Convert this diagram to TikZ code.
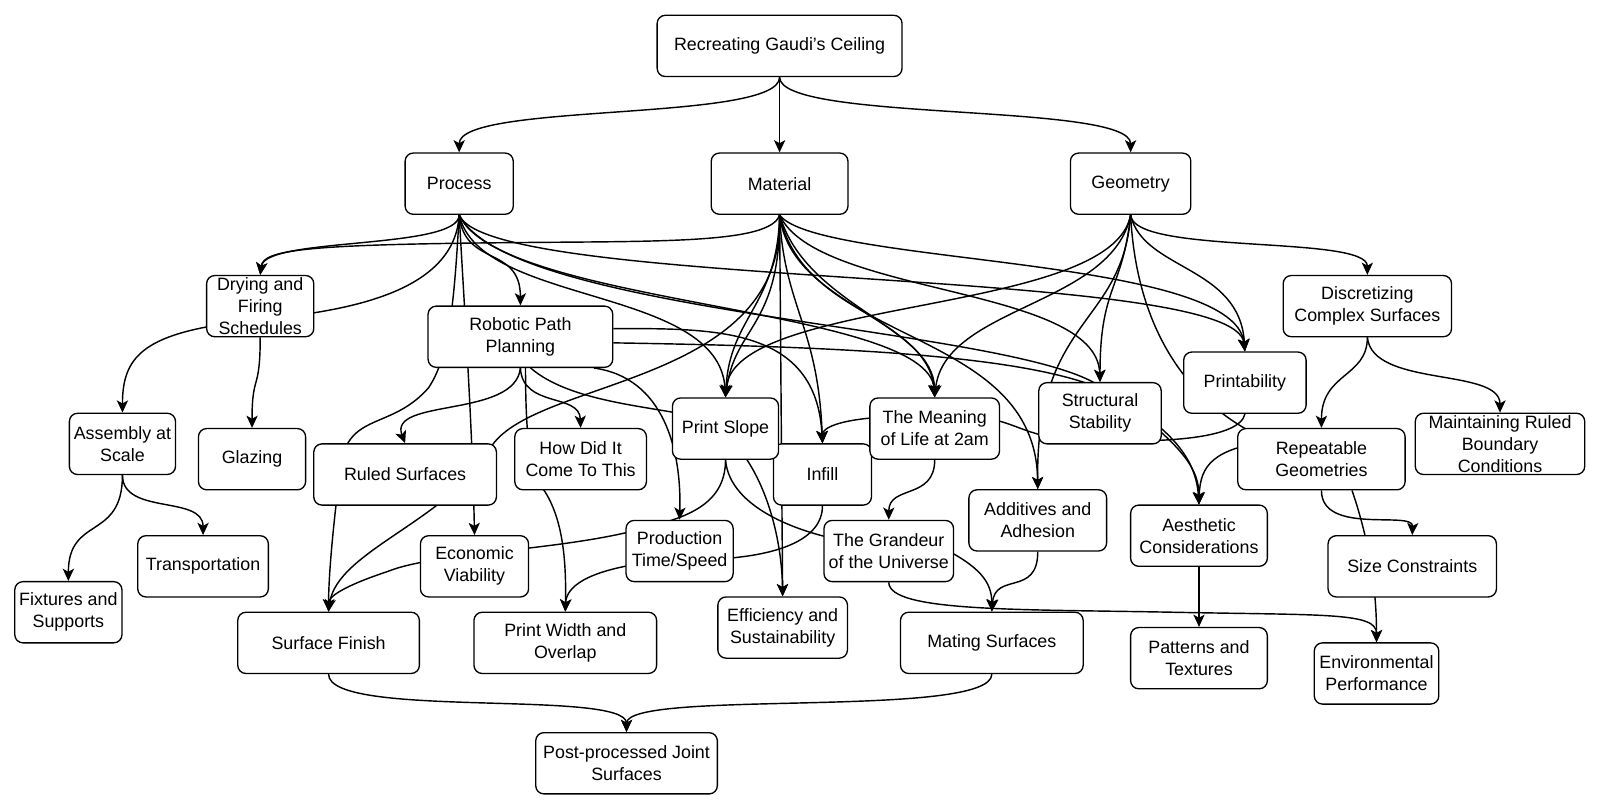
\documentclass[tikz,border=0pt]{standalone}
\usepackage{fontspec}
\setmainfont{Liberation Sans}
\usetikzlibrary{arrows.meta}
\pgfdeclarelayer{background}
\pgfsetlayers{background,main}
\begin{document}
\begin{tikzpicture}[x=1pt,y=-1pt,
  box/.style={draw, rounded corners=8pt, fill=white, line width=1.3pt, align=center, inner sep=0pt, minimum height=60pt, font=\fontsize{17.5}{21.5}\selectfont},
  conn/.style={draw, line width=1.4pt},
  arr/.style={conn, -{Stealth[length=12pt,width=11pt,inset=3pt]}}]
\path[use as bounding box] (0,0) rectangle (1568,795);

\node[box, minimum width=240pt] (root) at (764,45) {Recreating Gaudi's Ceiling};
\node[box, minimum width=106pt] (proc) at (450,180) {Process};
\node[box, minimum width=134pt] (mat) at (764,180) {Material};
\node[box, minimum width=118pt] (geo) at (1108,180) {Geometry};
\node[box, minimum width=105pt] (dry) at (255,300) {Drying and\\Firing\\Schedules};
\node[box, minimum width=181pt] (rpp) at (510,330) {Robotic Path\\Planning};
\node[box, minimum width=165pt] (disc) at (1340,300) {Discretizing\\Complex Surfaces};
\node[box, minimum width=120pt] (printab) at (1220,375) {Printability};
\node[box, minimum width=120pt] (struct) at (1078,405) {Structural\\Stability};
\node[box, minimum width=164pt] (repeat) at (1295,450) {Repeatable\\Geometries};
\node[box, minimum width=166pt] (maint) at (1470,435) {Maintaining Ruled\\Boundary\\Conditions};
\node[box, minimum width=96pt] (infill) at (806,465) {Infill};
\node[box, minimum width=104pt] (slope) at (711,420) {Print Slope};
\node[box, minimum width=127pt] (meaning) at (916,420) {The Meaning\\of Life at 2am};
\node[box, minimum width=129pt] (howdid) at (569,450) {How Did It\\Come To This};
\node[box, minimum width=179pt] (ruled) at (397,465) {Ruled Surfaces};
\node[box, minimum width=105pt] (glazing) at (247,450) {Glazing};
\node[box, minimum width=104pt] (assembly) at (120,435) {Assembly at\\Scale};
\node[box, minimum width=135pt] (additives) at (1017,510) {Additives and\\Adhesion};
\node[box, minimum width=134pt] (aesthetic) at (1175,525) {Aesthetic\\Considerations};
\node[box, minimum width=105pt] (prodtime) at (666,540) {Production\\Time/Speed};
\node[box, minimum width=127pt] (grandeur) at (871,540) {The Grandeur\\of the Universe};
\node[box, minimum width=106pt] (econ) at (465,555) {Economic\\Viability};
\node[box, minimum width=128pt] (transp) at (199,555) {Transportation};
\node[box, minimum width=165pt] (size) at (1384,555) {Size Constraints};
\node[box, minimum width=105pt] (fixtures) at (67,600) {Fixtures and\\Supports};
\node[box, minimum width=178pt] (surf) at (322,630) {Surface Finish};
\node[box, minimum width=179pt] (printw) at (554,630) {Print Width and\\Overlap};
\node[box, minimum width=127pt] (effic) at (767,615) {Efficiency and\\Sustainability};
\node[box, minimum width=179pt] (mating) at (972,630) {Mating Surfaces};
\node[box, minimum width=134pt] (patterns) at (1175,645) {Patterns and\\Textures};
\node[box, minimum width=122pt] (envperf) at (1349,660) {Environmental\\Performance};
\node[box, minimum width=178pt] (post) at (614,748) {Post-processed Joint\\Surfaces};

\begin{pgfonlayer}{background}
\fill[white] (0,0) rectangle (1568,795);
% root
\draw[arr] (root.south) .. controls (764,120) and (450,100) .. (proc.north);
\draw[arr] (root.south) -- (mat.north);
\draw[arr] (root.south) .. controls (764,120) and (1108,100) .. (geo.north);
% process
\draw[arr] (proc.south) .. controls (450,245) and (260,232) .. (dry.north);
\draw[arr] (proc.south) .. controls (445,300) and (300,308) .. (230,316) .. controls (140,328) and (120,350) .. (assembly.north);
\draw[arr] (dry.south) .. controls (255,385) and (247,365) .. (glazing.north);
\draw[arr] (proc.south) .. controls (455,262) and (510,240) .. (rpp.north);
\draw[arr] (proc.south) .. controls (445,300) and (440,350) .. (420,380) .. controls (385,420) and (345,405) .. (335,450) .. controls (328,500) and (322,560) .. (surf.north);
\draw[arr] (proc.south) .. controls (455,300) and (463,420) .. (econ.north);
\draw[arr] (proc.south) .. controls (470,300) and (705,280) .. (slope.north);
\draw[arr] (proc.south) .. controls (480,285) and (1210,260) .. (printab.north);
\draw[arr] (proc.south) .. controls (490,300) and (910,300) .. (meaning.north);
\draw[arr] (proc.south) .. controls (500,310) and (1000,320) .. (1080,380) .. controls (1150,420) and (1172,450) .. (aesthetic.north);
% robotic path planning
\draw[arr] (rpp.south) .. controls (512,400) and (568,385) .. (howdid.north);
\draw[arr] (rpp.south) .. controls (505,410) and (380,390) .. (ruled.north);
\draw[arr] ([xshift=5pt]rpp.south) .. controls (515,430) and (520,465) .. (530,476) .. controls (552,505) and (555,550) .. (printw.north);
\draw[arr] ([xshift=72pt]rpp.south) .. controls (650,370) and (668,440) .. (prodtime.north);
\draw[arr] ([xshift=10pt]rpp.south) .. controls (560,395) and (640,398) .. (690,410) .. controls (745,440) and (766,520) .. (effic.north);
\draw[arr] ([yshift=8pt]rpp.east) .. controls (700,322) and (800,320) .. (infill.north);
\draw[arr] ([yshift=-6pt]rpp.east) .. controls (850,340) and (1060,350) .. (1110,400) .. controls (1160,440) and (1175,460) .. (aesthetic.north);
% material
\draw[arr] (mat.south) .. controls (755,240) and (640,236) .. (480,238) .. controls (300,240) and (258,245) .. (dry.north);
\draw[arr] (mat.south) .. controls (762,300) and (715,310) .. (slope.north);
\draw[arr] (mat.south) .. controls (765,320) and (720,320) .. (slope.north);
\draw[arr] (mat.south) -- (effic.north);
\draw[arr] (mat.south) .. controls (768,300) and (802,320) .. (infill.north);
\draw[arr] (mat.south) .. controls (775,300) and (910,310) .. (meaning.north);
\draw[arr] (mat.south) .. controls (790,300) and (915,320) .. (meaning.north);
\draw[arr] (mat.south) .. controls (800,290) and (1075,280) .. (struct.north);
\draw[arr] (mat.south) .. controls (790,340) and (1015,320) .. (additives.north);
\draw[arr] (mat.south) .. controls (800,260) and (1210,250) .. (printab.north);
\draw[arr] (mat.south) .. controls (770,380) and (520,370) .. (480,440) .. controls (440,510) and (330,540) .. (surf.north);
% geometry
\draw[arr] (geo.south) .. controls (1110,250) and (1340,230) .. (disc.north);
\draw[arr] (geo.south) .. controls (1120,265) and (1215,260) .. (printab.north);
\draw[arr] (geo.south) .. controls (1100,285) and (1078,280) .. (struct.north);
\draw[arr] (geo.south) .. controls (1100,320) and (1015,310) .. (additives.north);
\draw[arr] (geo.south) .. controls (1090,310) and (718,290) .. (slope.north);
\draw[arr] (geo.south) .. controls (1090,300) and (925,300) .. (meaning.north);
\draw[arr] (geo.south) .. controls (1115,350) and (1190,410) .. (1245,432) .. controls (1190,440) and (1176,455) .. (aesthetic.north);
% printability
\draw[arr] (printab.south) .. controls (1215,430) and (1140,436) .. (1040,430) .. controls (1000,425) and (990,410) .. (950,408) -- (880,408) .. controls (820,410) and (806,420) .. (infill.north);
% discretizing
\draw[arr] (disc.south) .. controls (1340,370) and (1295,365) .. (repeat.north);
\draw[arr] (disc.south) .. controls (1345,380) and (1470,360) .. (maint.north);
% repeatable
\draw[arr] (repeat.south) .. controls (1295,525) and (1385,500) .. (size.north);
\draw[arr] ([xshift=30pt]repeat.south) .. controls (1335,510) and (1349,560) .. (envperf.north);
% grandeur
\draw[arr] (grandeur.south) .. controls (871,600) and (1000,597) .. (1150,600) .. controls (1300,603) and (1349,600) .. (envperf.north);
% aesthetic
\draw[arr] (aesthetic.south) -- (patterns.north);
% print slope
\draw[arr] (slope.south) .. controls (711,490) and (680,505) .. (640,515) .. controls (560,540) and (430,540) .. (380,560) .. controls (335,575) and (322,585) .. (surf.north);
\draw[arr] (slope.south) .. controls (715,500) and (790,525) .. (840,532) -- (920,535) .. controls (960,555) and (972,570) .. (mating.north);
% infill
\draw[arr] (infill.south) .. controls (806,530) and (760,545) .. (700,548) -- (630,552) .. controls (575,560) and (555,575) .. (printw.north);
% meaning
\draw[arr] (meaning.south) .. controls (916,490) and (871,475) .. (grandeur.north);
% additives
\draw[arr] (additives.south) .. controls (1017,585) and (975,560) .. (mating.north);
% post
\draw[arr] (surf.south) .. controls (322,705) and (614,675) .. (post.north);
\draw[arr] (mating.south) .. controls (972,705) and (614,675) .. (post.north);
% assembly
\draw[arr] (assembly.south) .. controls (120,505) and (199,485) .. (transp.north);
\draw[arr] (assembly.south) .. controls (120,530) and (67,505) .. (fixtures.north);
\end{pgfonlayer}
\end{tikzpicture}
\end{document}
